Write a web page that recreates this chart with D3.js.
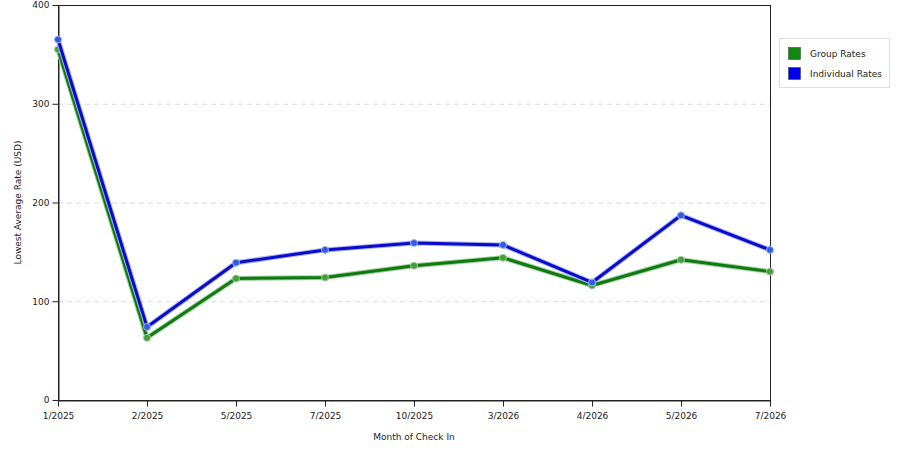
<html>
<head>
    <title>Lowest Average Rate by Month of Check In</title>
    <script type="text/javascript" src="https://cdn.jsdelivr.net/npm/d3@7"></script>
    <style type="text/css">
        body {
            margin: 0;
            background: #fff;
        }
        svg text {
            font-family: 'DejaVu Sans', Arial, sans-serif;
            font-size: 9px;
            fill: #222;
        }
        .axis path, .axis line {
            stroke: #222;
        }
        .grid line {
            stroke: #d8d8d8;
            stroke-dasharray: 5,4;
        }
    </style>
</head>
<body>
    <div id="chart"></div>
    <script type="text/javascript">
    var months = ['1/2025', '2/2025', '5/2025', '7/2025', '10/2025', '3/2026', '4/2026', '5/2026', '7/2026'];
    var groupRates = [355, 63, 123, 124, 136, 144, 116, 142, 130];
    var individualRates = [365, 74, 139, 152, 159, 157, 119, 187, 152];
    var yTicks = [0, 100, 200, 300, 400];

    var WIDTH = 900;
    var HEIGHT = 450;
    var LEFT = 58, RIGHT = 770, TOP = 5, BOTTOM = 400;

    var svg = d3.select('#chart')
                .append('svg')
                .attr('width', WIDTH)
                .attr('height', HEIGHT);

    var x = d3.scalePoint().domain(months).range([LEFT, RIGHT]);
    var y = d3.scaleLinear().domain([0, 400]).range([BOTTOM, TOP]);

    // dashed grid lines
    svg.append('g')
        .attr('class', 'grid')
        .selectAll('line')
        .data([100, 200, 300])
        .enter()
        .append('line')
        .attr('x1', LEFT).attr('x2', RIGHT)
        .attr('y1', function(d) { return y(d) + 0.5; })
        .attr('y2', function(d) { return y(d) + 0.5; });

    // frame
    svg.append('rect')
        .attr('x', LEFT + 0.5).attr('y', TOP + 0.5)
        .attr('width', RIGHT - LEFT).attr('height', BOTTOM - TOP)
        .attr('fill', 'none')
        .attr('stroke', '#222');

    svg.append('g')
        .attr('class', 'axis')
        .attr('transform', 'translate(0,' + (BOTTOM + 0.5) + ')')
        .call(d3.axisBottom(x).tickSize(6).tickPadding(6).tickSizeOuter(0));

    svg.append('g')
        .attr('class', 'axis')
        .attr('transform', 'translate(' + (LEFT + 0.5) + ',0)')
        .call(d3.axisLeft(y).tickValues(yTicks).tickSize(6).tickPadding(3).tickSizeOuter(0));

    svg.selectAll('.axis text').style('font-size', '9px').attr('fill', '#222');

    // axis titles
    svg.append('text')
        .attr('x', (LEFT + RIGHT) / 2)
        .attr('y', 440)
        .attr('text-anchor', 'middle')
        .text('Month of Check In');

    svg.append('text')
        .attr('transform', 'translate(21,' + ((TOP + BOTTOM) / 2) + ') rotate(-90)')
        .attr('text-anchor', 'middle')
        .text('Lowest Average Rate (USD)');

    var series = [
        { name: 'Group Rates', values: groupRates, color: '#107a10', halo: '#9fd09f', marker: '#4a9c3a', key: '#118811' },
        { name: 'Individual Rates', values: individualRates, color: '#0a0acc', halo: '#a8b4f0', marker: '#2a5ee0', key: '#0000ee' }
    ];

    var line = d3.line()
        .x(function(d, i) { return x(months[i]); })
        .y(function(d) { return y(d); });

    series.forEach(function(s) {
        svg.append('path')
            .attr('d', line(s.values))
            .attr('fill', 'none')
            .attr('stroke', s.halo)
            .attr('stroke-width', 5)
            .attr('stroke-linejoin', 'round');
        svg.append('path')
            .attr('d', line(s.values))
            .attr('fill', 'none')
            .attr('stroke', s.color)
            .attr('stroke-width', 3)
            .attr('stroke-linejoin', 'round');
        svg.append('g')
            .selectAll('circle')
            .data(s.values)
            .enter()
            .append('circle')
            .attr('cx', function(d, i) { return x(months[i]); })
            .attr('cy', function(d) { return y(d); })
            .attr('r', 3.5)
            .attr('fill', s.marker)
            .attr('stroke', s.halo)
            .attr('stroke-width', 1);
    });

    // legend
    var legend = svg.append('g');
    legend.append('rect')
        .attr('x', 779.5).attr('y', 38.5)
        .attr('width', 110).attr('height', 49)
        .attr('fill', '#fff')
        .attr('stroke', '#ddd');

    var items = legend.selectAll('g.item')
        .data(series)
        .enter()
        .append('g')
        .attr('transform', function(d, i) { return 'translate(788.5,' + (47.5 + i * 20) + ')'; });

    items.append('rect')
        .attr('width', 12).attr('height', 12)
        .attr('fill', function(d) { return d.key; })
        .attr('stroke', '#333')
        .attr('stroke-width', 0.5);

    items.append('text')
        .attr('x', 21.5)
        .attr('y', 9.5)
        .text(function(d) { return d.name; });
    </script>
</body>
</html>
